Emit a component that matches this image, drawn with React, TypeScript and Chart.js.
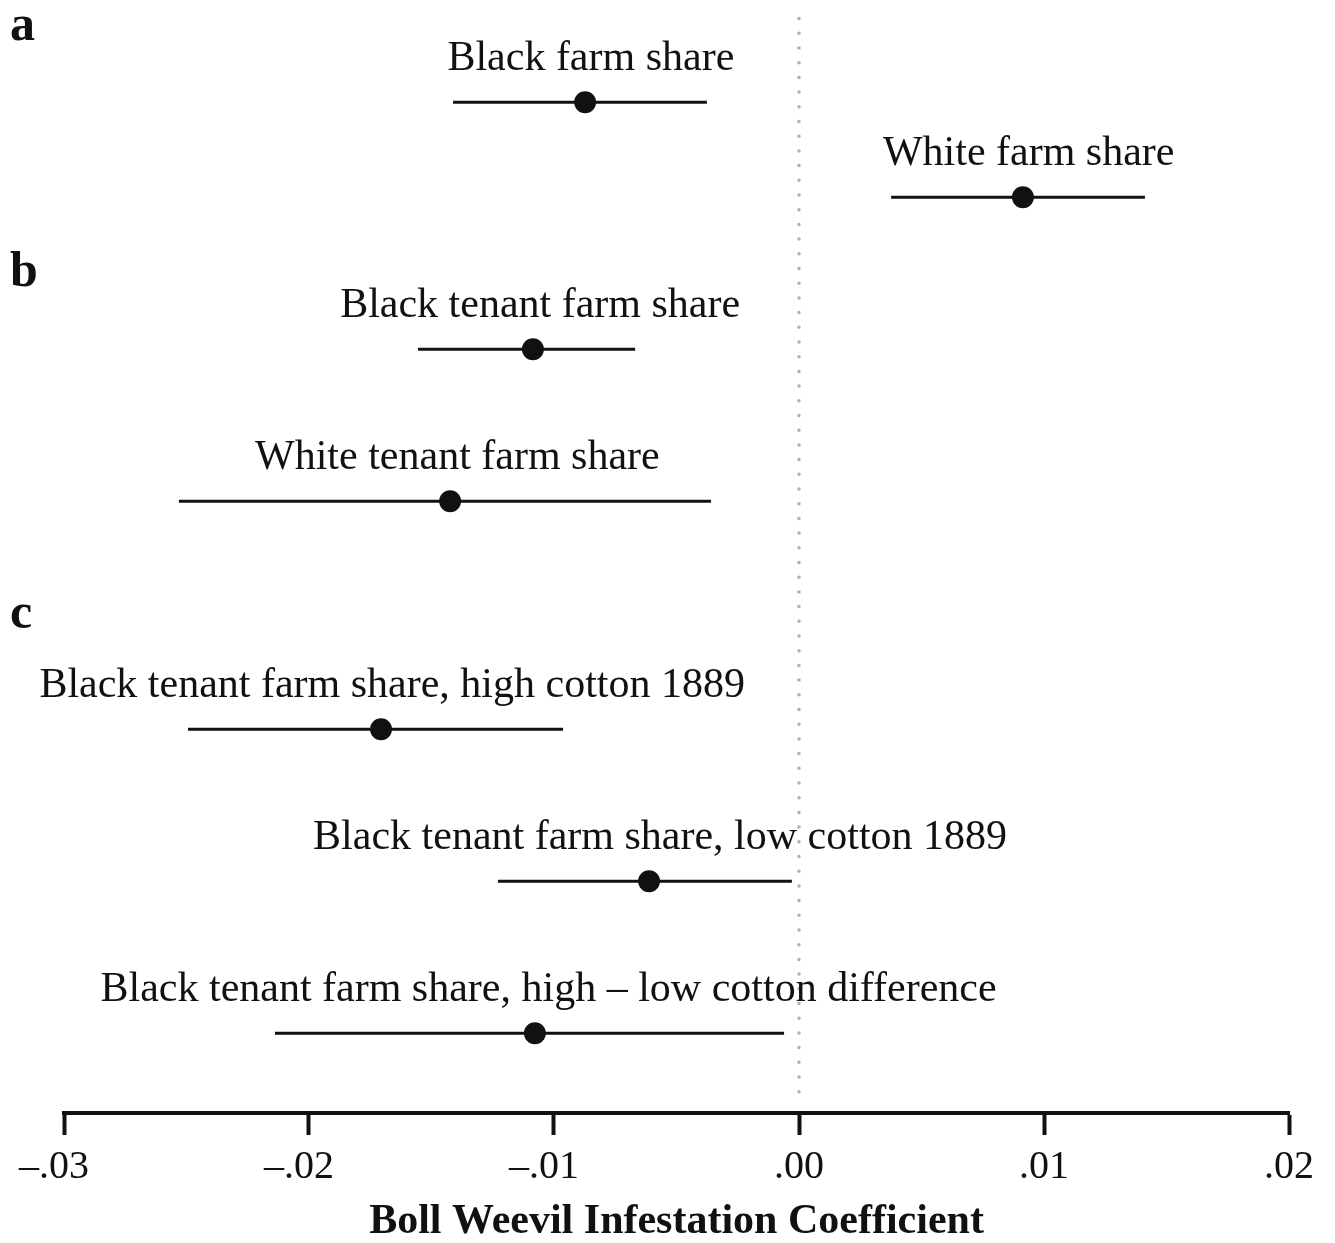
import React, { useEffect, useRef } from "react";
import { Chart, registerables } from "chart.js";

Chart.register(...registerables);

const rowLabels = [
  "Black farm share",
  "White farm share",
  "Black tenant farm share",
  "White tenant farm share",
  "Black tenant farm share, high cotton 1889",
  "Black tenant farm share, low cotton 1889",
  "Black tenant farm share, high \u2013 low cotton difference",
];
const estimates = [-0.00873, 0.00914, -0.01086, -0.01424, -0.01706, -0.00612, -0.01078];
const lowerCI = [-0.01412, 0.00376, -0.01555, -0.02531, -0.02494, -0.01229, -0.02139];
const upperCI = [-0.00376, 0.01412, -0.00669, -0.00359, -0.00963, -0.00029, -0.00061];
const rowPositions = [1, 1.625, 2.625, 3.625, 5.125, 6.125, 7.125];

const panelLetters = ["a", "b", "c"];
const panelPositions = [0.59, 2.207, 4.46];

const xTickValues = [-0.03, -0.02, -0.01, 0, 0.01, 0.02];
const xTitle = "Boll Weevil Infestation Coefficient";

const SERIF = "'Liberation Serif', 'DejaVu Serif', serif";

function fmtTick(v: number): string {
  const n = Math.round(v * 100);
  if (n === 0) return ".00";
  const s = ".0" + Math.abs(n);
  // en space balances the dash so the number itself sits under the tick
  return n < 0 ? "\u2013" + s + "\u2002" : s;
}

const textPlugin = {
  id: "coefLabels",
  afterDatasetsDraw(chart: any) {
    const { ctx, scales } = chart;
    const xs = scales.x;
    const ys = scales.y;
    ctx.save();
    ctx.fillStyle = "#111";
    ctx.font = `42px ${SERIF}`;
    ctx.textAlign = "center";
    ctx.textBaseline = "alphabetic";
    rowLabels.forEach((lab, i) => {
      const px = xs.getPixelForValue(estimates[i]);
      const py = ys.getPixelForValue(rowPositions[i]);
      const w = ctx.measureText(lab).width;
      ctx.fillText(lab, px + 2 + w * 0.013, py - 32);
    });
    ctx.font = `bold 50px ${SERIF}`;
    ctx.textAlign = "left";
    panelLetters.forEach((l, i) => {
      ctx.fillText(l, 10, ys.getPixelForValue(panelPositions[i]));
    });
    ctx.restore();
  },
};

export default function App() {
  const ref = useRef<HTMLCanvasElement | null>(null);

  useEffect(() => {
    document.body.style.margin = "0";
    if (!ref.current) return;
    const datasets: any[] = [];
    datasets.push({
      label: "points",
      data: estimates.map((e, i) => ({ x: e, y: rowPositions[i] })),
      pointRadius: 11,
      pointBackgroundColor: "#111",
      pointBorderColor: "#111",
      pointBorderWidth: 0,
      showLine: false,
      order: 0,
    });
    rowLabels.forEach((_, i) => {
      datasets.push({
        label: "ci" + i,
        data: [
          { x: lowerCI[i], y: rowPositions[i] },
          { x: upperCI[i], y: rowPositions[i] },
        ],
        showLine: true,
        borderColor: "#111",
        borderWidth: 3,
        pointRadius: 0,
        order: 5,
      });
    });
    datasets.push({
      label: "zero",
      data: [
        { x: 0, y: 0.45 },
        { x: 0, y: 7.58 },
      ],
      showLine: true,
      borderColor: "#b0b0b0",
      borderWidth: 3.5,
      borderDash: [0, 14.7],
      borderCapStyle: "round",
      pointRadius: 0,
      order: 10,
    });

    const chart = new Chart(ref.current, {
      type: "scatter",
      data: { datasets },
      plugins: [textPlugin],
      options: {
        animation: false,
        responsive: false,
        devicePixelRatio: 1,
        layout: { padding: { left: 64, right: 46, top: 10, bottom: 0 } },
        plugins: { legend: { display: false }, tooltip: { enabled: false } },
        scales: {
          x: {
            type: "linear",
            min: -0.03,
            max: 0.02,
            afterBuildTicks: (axis: any) => {
              axis.ticks = xTickValues.map((v) => ({ value: v }));
            },
            grid: {
              drawOnChartArea: false,
              drawTicks: true,
              tickLength: 22,
              tickWidth: 4,
              tickColor: "#111",
            },
            border: { display: true, color: "#111", width: 4 },
            ticks: {
              color: "#111",
              padding: 8,
              maxRotation: 0,
              font: { family: SERIF, size: 40 },
              callback: (v: any) => fmtTick(Number(v)),
            },
            title: {
              display: true,
              text: xTitle,
              color: "#111",
              font: { family: SERIF, size: 42, weight: "bold", lineHeight: 1 },
              padding: { top: 2, bottom: 0 },
            },
          },
          y: {
            type: "linear",
            display: false,
            reverse: true,
            min: 0.4,
            max: 7.65,
          },
        },
      },
    });
    return () => chart.destroy();
  }, []);

  return (
    <div style={{ width: 1335, height: 1243, background: "#fff" }}>
      <canvas ref={ref} width={1335} height={1243} style={{ display: "block" }} />
    </div>
  );
}
